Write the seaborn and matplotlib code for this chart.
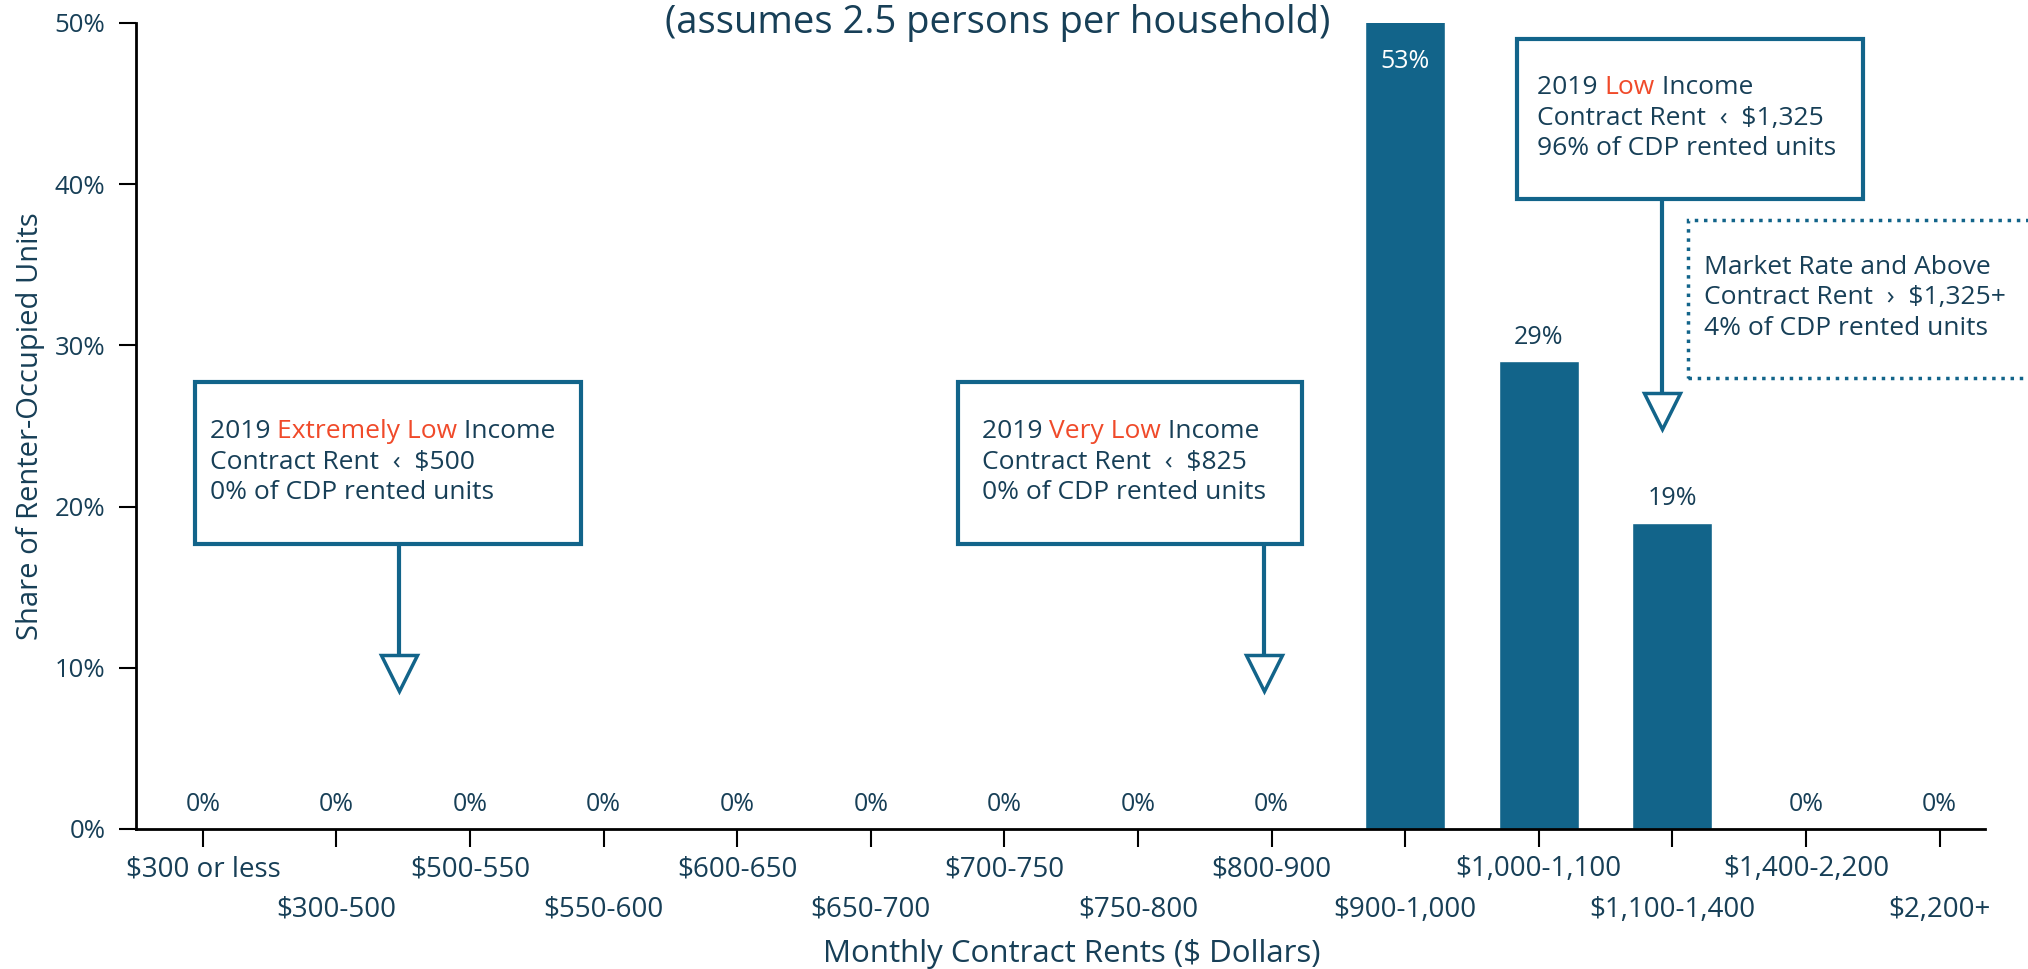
import matplotlib
matplotlib.use("Agg")
import matplotlib.pyplot as plt
import seaborn as sns
from matplotlib.patches import Rectangle

# data
rent_bins = ["$300 or less", "$300-500", "$500-550", "$550-600", "$600-650",
             "$650-700", "$700-750", "$750-800", "$800-900", "$900-1,000",
             "$1,000-1,100", "$1,100-1,400", "$1,400-2,200", "$2,200+"]
share_pct = [0, 0, 0, 0, 0, 0, 0, 0, 0, 53, 29, 19, 0, 0]
y_ticks = [0, 10, 20, 30, 40, 50]

BAR = "#12648a"
TXT = "#173f57"
ORANGE = "#f04a2a"

sns.set_theme(style="white")
plt.rcParams["font.family"] = ["Open Sans", "DejaVu Sans"]

fig = plt.figure(figsize=(20.28, 9.69), dpi=100)
ax = fig.add_axes([0.0671, 0.1445, 0.9117, 0.8318])

sns.barplot(x=rent_bins, y=share_pct, color=BAR, saturation=1, width=0.6, ax=ax)

ax.set_ylim(0, 50)
ax.set_xlim(-0.5, 13.34)
ax.set_yticks(y_ticks)
ax.set_yticklabels([f"{v}%" for v in y_ticks], color=TXT, fontsize=18.5)

# alternating two-row x labels
ax.set_xticks(range(0, 14, 2))
ax.set_xticklabels(rent_bins[0::2], color=TXT, fontsize=20)
ax.set_xticks(range(1, 14, 2), minor=True)
ax.set_xticklabels(rent_bins[1::2], minor=True, color=TXT, fontsize=20)
ax.tick_params(axis="x", which="major", length=13, width=1.5, color="black", pad=6, bottom=True)
ax.tick_params(axis="x", which="minor", length=13, width=1.5, color="black", pad=35, bottom=True)
ax.tick_params(axis="y", length=12, width=1.5, color="black", pad=10, left=True)

for side in ["top", "right"]:
    ax.spines[side].set_visible(False)
for side in ["left", "bottom"]:
    ax.spines[side].set_color("black")
    ax.spines[side].set_linewidth(2)

ax.set_ylabel("Share of Renter-Occupied Units", color=TXT, fontsize=21)
ax.yaxis.set_label_coords(-0.049, 0.5)
ax.set_xlabel("Monthly Contract Rents ($ Dollars)", color=TXT, fontsize=22.5)
ax.xaxis.set_label_coords(0.506, -0.136)

# value labels
for i, v in enumerate(share_pct):
    if v > 50:
        ax.text(i, 47.6, f"{v}%", ha="center", va="center", color="white", fontsize=18)
    else:
        ax.text(i, v + 1.5, f"{v}%", ha="center", va="center", color=TXT, fontsize=18)

fig.text(0.492, 0.976, "(assumes 2.5 persons per household)", ha="center", va="center",
         color=TXT, fontsize=27.5)


def rich_line(x, y, parts, size=19):
    t = ax.text(x, y, parts[0][0], color=parts[0][1], fontsize=size, ha="left", va="center")
    for s, c in parts[1:]:
        t = ax.annotate(s, xy=(1, 0), xycoords=t, va="bottom", ha="left",
                        color=c, fontsize=size)


def callout(x0, x1, y0, y1, tx, lines, arrow_x=None, tip=None, dotted=False):
    rect = Rectangle((x0, y0), x1 - x0, y1 - y0, fill=False, edgecolor=BAR,
                     lw=2.5 if dotted else 3, ls=":" if dotted else "-",
                     clip_on=False, zorder=4)
    ax.add_patch(rect)
    mid = (y0 + y1) / 2 + 0.05
    for yy, parts in zip([mid + 1.9, mid, mid - 1.9], lines):
        rich_line(tx, yy, parts)
    if arrow_x is not None:
        ax.plot([arrow_x, arrow_x], [y0, tip], color=BAR, lw=3, clip_on=False, zorder=4)
        ax.plot(arrow_x, tip, marker="v", ms=26, mfc="white", mec=BAR, mew=2.5,
                clip_on=False, zorder=5)


callout(-0.06, 2.83, 17.7, 27.7, 0.05,
        [[("2019 ", TXT), ("Extremely Low", ORANGE), (" Income", TXT)],
         [("Contract Rent  \u2039  $500", TXT)],
         [("0% of CDP rented units", TXT)]],
        arrow_x=1.47, tip=9.7)

callout(5.65, 8.23, 17.7, 27.7, 5.83,
        [[("2019 ", TXT), ("Very Low", ORANGE), (" Income", TXT)],
         [("Contract Rent  \u2039  $825", TXT)],
         [("0% of CDP rented units", TXT)]],
        arrow_x=7.94, tip=9.7)

callout(9.84, 12.43, 39.1, 49.0, 9.99,
        [[("2019 ", TXT), ("Low", ORANGE), (" Income", TXT)],
         [("Contract Rent  \u2039  $1,325", TXT)],
         [("96% of CDP rented units", TXT)]],
        arrow_x=10.92, tip=25.9)

callout(11.12, 13.8, 28.0, 37.8, 11.24,
        [[("Market Rate and Above", TXT)],
         [("Contract Rent  \u203a  $1,325+", TXT)],
         [("4% of CDP rented units", TXT)]],
        dotted=True)

fig.savefig("out.png", dpi=100)
